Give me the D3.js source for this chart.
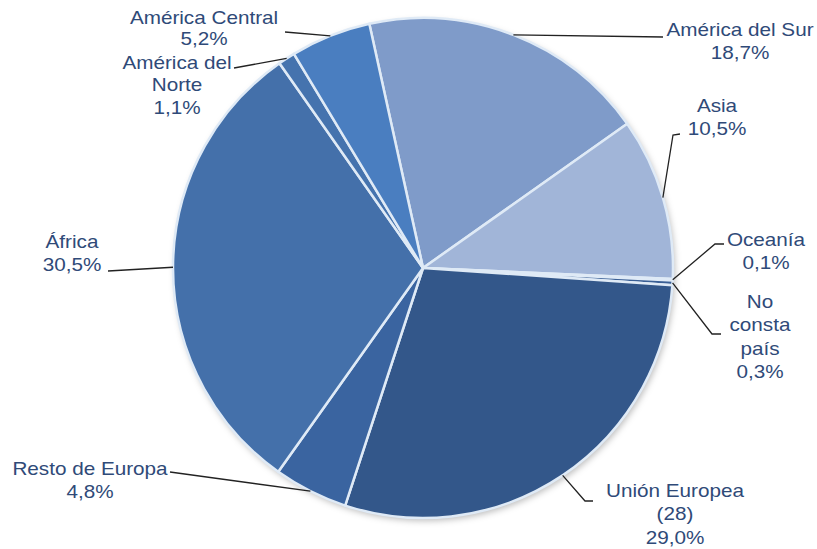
<!DOCTYPE html>
<html><head><meta charset="utf-8">
<script src="https://cdn.jsdelivr.net/npm/d3@7"></script>
<style>body{margin:0;background:#fff}svg{display:block}</style>
</head><body>
<svg id="c" width="817" height="549"></svg>
<script>
const categories = ["América del Sur","Asia","Oceanía","No consta país","Unión Europea (28)","Resto de Europa","África","América del Norte","América Central"];
const values = [18.7,10.5,0.1,0.3,29.0,4.8,30.5,1.1,5.2];
const valueLabels = ["18,7%","10,5%","0,1%","0,3%","29,0%","4,8%","30,5%","1,1%","5,2%"];
const nameLines = [["América del Sur"],["Asia"],["Oceanía"],["No","consta","país"],["Unión Europea","(28)"],["Resto de Europa"],["África"],["América del","Norte"],["América Central"]];
const colors = ["#7f9bc9","#a1b5d8","#8fa8d2","#3a5f95","#33578a","#3a64a0","#4470aa","#4573ae","#4a7ec0"];

// layout: label anchor (x, first line baseline y, line spacing), leader elbow points
const layout = [
  {x:740,y:36,dy:23.5,pts:[[663,37]]},
  {x:717,y:112,dy:23.5,pts:[[673,135],[680,134]]},
  {x:766,y:246,dy:23.5,pts:[[715,244],[724,244]]},
  {x:760,y:308,dy:23.5,pts:[[712,334],[721,334]]},
  {x:675,y:497,dy:23.5,pts:[[585,501],[593,501]]},
  {x:90,y:475,dy:23.5,pts:[[170,472]]},
  {x:72,y:248,dy:23.5,pts:[[108,271]]},
  {x:177,y:69,dy:22.5,pts:[[234,68]]},
  {x:204,y:24,dy:21.5,pts:[[285,32]]}
];

const svg = d3.select("#c");
const cx = 423, cy = 268, r = 250;
const deg = Math.PI/180;
const pie = d3.pie().sort(null).value(d=>d).startAngle(-12.4*deg).endAngle(-12.4*deg+2*Math.PI);
const arcs = pie(values);
const arc = d3.arc().innerRadius(0).outerRadius(r);

const defs = svg.append("defs");
const f = defs.append("filter").attr("id","sh").attr("x","-10%").attr("y","-10%").attr("width","120%").attr("height","120%");
f.append("feDropShadow").attr("dx",2).attr("dy",3).attr("stdDeviation",3).attr("flood-color","#000").attr("flood-opacity",0.25);

const g = svg.append("g").attr("transform",`translate(${cx},${cy})`);
g.append("circle").attr("r",r).attr("fill","#3f679f").attr("filter","url(#sh)");
g.selectAll("path.s").data(arcs).enter().append("path")
  .attr("class","s").attr("d",arc)
  .attr("fill",(d,i)=>colors[i])
  .attr("stroke","#dfeaf6").attr("stroke-width",2.5).attr("stroke-linejoin","round");

const tc = "#2f4a78";
arcs.forEach((d,i)=>{
  const a = (d.startAngle+d.endAngle)/2;
  const p0 = [cx + r*Math.sin(a), cy - r*Math.cos(a)];
  const pts = [p0].concat(layout[i].pts);
  svg.append("path").attr("d",d3.line()(pts)).attr("fill","none").attr("stroke","#222").attr("stroke-width",1.3);
  const lines = nameLines[i].concat([valueLabels[i]]);
  const t = svg.append("text")
    .attr("transform",`translate(${layout[i].x},${layout[i].y}) scale(1.15,1)`)
    .attr("text-anchor","middle").attr("font-family","Liberation Sans, Arial, sans-serif")
    .attr("font-size",18).attr("fill",tc);
  lines.forEach((s,k)=>{
    t.append("tspan").attr("x",0).attr("dy",k===0?0:layout[i].dy).text(s);
  });
});
</script>
</body></html>
